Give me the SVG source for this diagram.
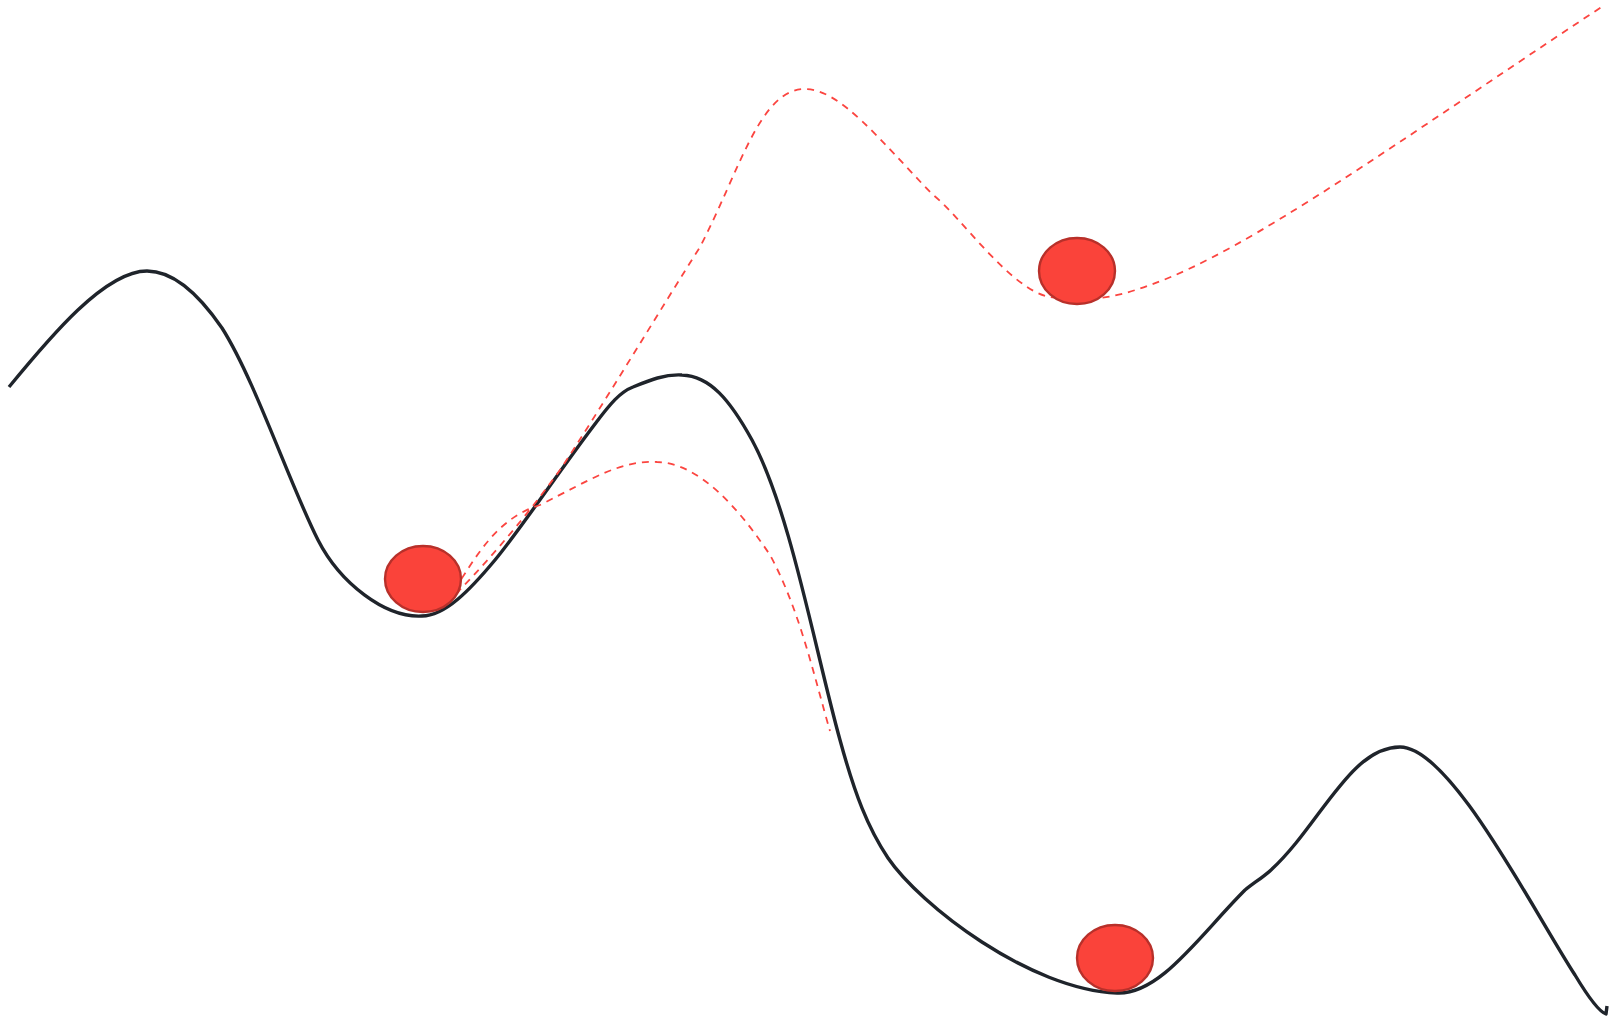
<svg xmlns="http://www.w3.org/2000/svg" width="1614" height="1023" viewBox="0 0 1614 1023">
<style>
.ground{fill:none;stroke:#1f242b;stroke-width:3.4;stroke-linecap:butt;stroke-linejoin:round}
.path{fill:none;stroke:#fb4540;stroke-width:1.8;stroke-dasharray:7 6}
.ball{fill:#fa433a;stroke:#b8302a;stroke-width:2.4}
</style>
<rect width="1614" height="1023" fill="#ffffff"/>
<g id="connectors">
<path class="ground" d="M9,387 C50,337 105,271 147,271 C175,271 200,296 222,328 C255,380 290,485 318,540 C340,583 385,618 422,616 C445,616 470,590 495,560 C520,530 560,470 595,424 C610,404 620,392 633,387 C650,380 665,374 682,375 C710,376 730,400 752,440 C790,510 815,650 840,740 C855,795 868,828 888,858 C920,905 1030,990 1117,993 C1160,995 1200,935 1245,890 C1255,882 1262,878 1271,870 C1320,825 1350,747 1400,747 C1450,747 1530,905 1575,975 C1590,1000 1600,1012 1606,1014 L1607,1006"/>
<path class="path" d="M447,603 C480,570 520,525 560,470 C600,410 660,310 700,247 C740,170 760,89 805,89 C840,89 880,140 932,194 C960,215 1010,290 1050,297 C1080,302 1110,300 1150,285 C1250,250 1400,140 1603,6"/>
<path class="path" d="M447,600 C470,570 490,520 540,505 C590,480 620,460 657,462 C700,463 740,510 770,555 C800,610 815,680 830,731"/>
</g>
<g id="ball-1"><ellipse class="ball" cx="423" cy="579" rx="38" ry="33"/></g>
<g id="ball-2"><ellipse class="ball" cx="1077" cy="271" rx="38" ry="33"/></g>
<g id="ball-3"><ellipse class="ball" cx="1115" cy="958" rx="38" ry="33"/></g>
</svg>
